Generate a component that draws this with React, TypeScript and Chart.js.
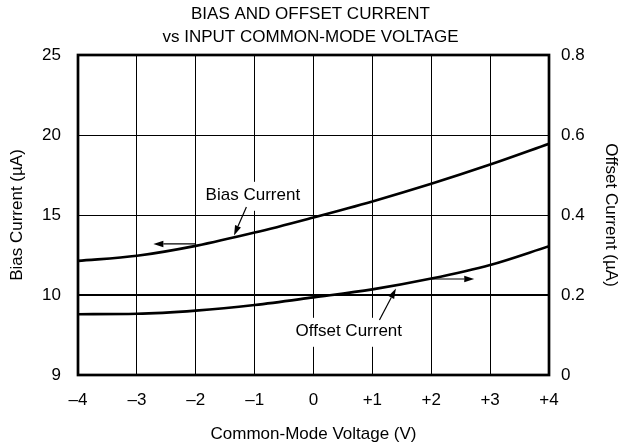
import React, { useEffect, useRef } from 'react';
import { Chart, registerables } from 'chart.js';

Chart.register(...registerables);

// ---- data ----
const voltages = [-4, -3, -2, -1, 0, 1, 2, 3, 4];
const biasCurrent = [12.13, 12.45, 13.07, 13.9, 14.85, 15.85, 16.95, 18.15, 19.45];
const offsetCurrent = [0.152, 0.153, 0.161, 0.175, 0.194, 0.214, 0.241, 0.275, 0.322];

const xTickLabels = ['\u20134', '\u20133', '\u20132', '\u20131', '0', '+1', '+2', '+3', '+4'];
const biasTickValues = [5, 10, 15, 20, 25];
const biasTickLabels = ['9', '10', '15', '20', '25'];
const offsetTickLabels = ['0', '0.2', '0.4', '0.6', '0.8'];

const titleLines = ['BIAS AND OFFSET CURRENT', 'vs INPUT COMMON-MODE VOLTAGE'];

// annotation texts (in data units)
const noteTexts = ['Bias Current', 'Offset Current'];
const noteX = [-1.03, 0.6];
const noteY = [16.2, 0.108];
const noteAxis = ['y', 'y1'];

// arrows (in data units): from -> to, arrowhead at "to"
const arrowFromX = [-1.14, -2.0, 1.12, 2.0];
const arrowFromY = [15.5, 13.19, 0.1375, 0.24];
const arrowToX = [-1.35, -2.72, 1.4, 2.73];
const arrowToY = [13.72, 13.19, 0.216, 0.24];
const arrowAxis = ['y', 'y', 'y1', 'y1'];

const FONT = "'Liberation Sans', Arial, Helvetica, sans-serif";

const annotationPlugin = {
  id: 'annotations',
  afterDatasetsDraw(chart: any) {
    const { ctx, scales } = chart;
    ctx.save();
    ctx.font = `17px ${FONT}`;
    ctx.textAlign = 'center';
    ctx.textBaseline = 'middle';
    noteTexts.forEach((t, i) => {
      const px = scales.x.getPixelForValue(noteX[i]);
      const py = scales[noteAxis[i]].getPixelForValue(noteY[i]);
      const w = ctx.measureText(t).width;
      ctx.fillStyle = '#fff';
      ctx.fillRect(px - w / 2 - 3, py - 14, w + 6, 29);
      ctx.fillStyle = '#000';
      ctx.fillText(t, px, py);
    });
    ctx.strokeStyle = '#000';
    ctx.fillStyle = '#000';
    ctx.lineWidth = 1.2;
    arrowFromX.forEach((fx, i) => {
      const sc = scales[arrowAxis[i]];
      const x0 = scales.x.getPixelForValue(fx);
      const y0 = sc.getPixelForValue(arrowFromY[i]);
      const x1 = scales.x.getPixelForValue(arrowToX[i]);
      const y1 = sc.getPixelForValue(arrowToY[i]);
      const ang = Math.atan2(y1 - y0, x1 - x0);
      const L = 10;
      const H = 3.2;
      const bx = x1 - L * Math.cos(ang);
      const by = y1 - L * Math.sin(ang);
      ctx.beginPath();
      ctx.moveTo(x0, y0);
      ctx.lineTo(bx, by);
      ctx.stroke();
      ctx.beginPath();
      ctx.moveTo(x1, y1);
      ctx.lineTo(bx + H * Math.sin(ang), by - H * Math.cos(ang));
      ctx.lineTo(bx - H * Math.sin(ang), by + H * Math.cos(ang));
      ctx.closePath();
      ctx.fill();
    });
    ctx.restore();
  },
  afterDraw(chart: any) {
    const { ctx, chartArea } = chart;
    ctx.save();
    ctx.strokeStyle = '#000';
    ctx.lineWidth = 2.7;
    ctx.strokeRect(chartArea.left, chartArea.top, chartArea.right - chartArea.left, chartArea.bottom - chartArea.top);
    ctx.restore();
  },
};

export default function App() {
  const ref = useRef<HTMLCanvasElement>(null);

  useEffect(() => {
    if (!ref.current) return;
    Chart.defaults.font.family = FONT;
    Chart.defaults.color = '#000';
    const chart = new Chart(ref.current, {
      type: 'line',
      data: {
        datasets: [
          {
            label: 'Bias Current',
            data: voltages.map((v, i) => ({ x: v, y: biasCurrent[i] })),
            yAxisID: 'y',
            borderColor: '#000',
            borderWidth: 2.6,
            pointRadius: 0,
            cubicInterpolationMode: 'monotone',
            fill: false,
          },
          {
            label: 'Offset Current',
            data: voltages.map((v, i) => ({ x: v, y: offsetCurrent[i] })),
            yAxisID: 'y1',
            borderColor: '#000',
            borderWidth: 2.6,
            pointRadius: 0,
            cubicInterpolationMode: 'monotone',
            fill: false,
          },
        ],
      },
      options: {
        responsive: false,
        animation: false,
        layout: { padding: 0 },
        plugins: {
          legend: { display: false },
          tooltip: { enabled: false },
          title: {
            display: true,
            text: titleLines,
            color: '#000',
            font: { size: 17, weight: 'normal', family: FONT, lineHeight: '23px' },
            padding: { top: 2.5, bottom: 6.5 },
          },
        },
        scales: {
          x: {
            type: 'linear',
            min: -4,
            max: 4,
            ticks: {
              stepSize: 1,
              padding: 15,
              color: '#000',
              font: { size: 17 },
              maxRotation: 0,
              callback: (v: any) => {
                const i = voltages.indexOf(Number(v));
                return i >= 0 ? xTickLabels[i] : '';
              },
            },
            grid: { color: '#000', lineWidth: 1, drawTicks: false },
            border: { display: false },
            title: {
              display: true,
              text: 'Common-Mode Voltage (V)',
              color: '#000',
              font: { size: 17 },
              padding: { top: 0, bottom: 2 },
            },
            afterFit: (s: any) => {
              s.height = 72;
            },
          },
          y: {
            type: 'linear',
            position: 'left',
            min: 5,
            max: 25,
            ticks: {
              stepSize: 5,
              padding: 17,
              color: '#000',
              font: { size: 17 },
              callback: (v: any) => {
                const i = biasTickValues.indexOf(Number(v));
                return i >= 0 ? biasTickLabels[i] : '';
              },
            },
            grid: {
              color: '#000',
              lineWidth: (c: any) => (c.tick && c.tick.value === 10 ? 2 : 1),
              drawTicks: false,
            },
            border: { display: false },
            title: {
              display: true,
              text: 'Bias Current (\u00b5A)',
              color: '#000',
              font: { size: 17 },
              padding: { top: 7.6, bottom: 0 },
            },
            afterFit: (s: any) => {
              s.width = 78;
            },
          },
          y1: {
            type: 'linear',
            position: 'right',
            min: 0,
            max: 0.8,
            ticks: {
              stepSize: 0.2,
              padding: 12,
              color: '#000',
              font: { size: 17 },
              callback: (v: any) => offsetTickLabels[Math.round(Number(v) / 0.2)] ?? '',
            },
            grid: { display: false, drawTicks: false },
            border: { display: false },
            title: {
              display: true,
              text: 'Offset Current (\u00b5A)',
              color: '#000',
              font: { size: 17 },
              padding: { top: 0, bottom: 0 },
            },
            afterFit: (s: any) => {
              s.width = 72;
            },
          },
        },
      } as any,
      plugins: [annotationPlugin],
    });
    return () => chart.destroy();
  }, []);

  return (
    <div style={{ position: 'absolute', left: 0, top: 0, width: 621, height: 447, background: '#fff' }}>
      <canvas ref={ref} width={621} height={447} style={{ display: 'block' }} />
    </div>
  );
}
